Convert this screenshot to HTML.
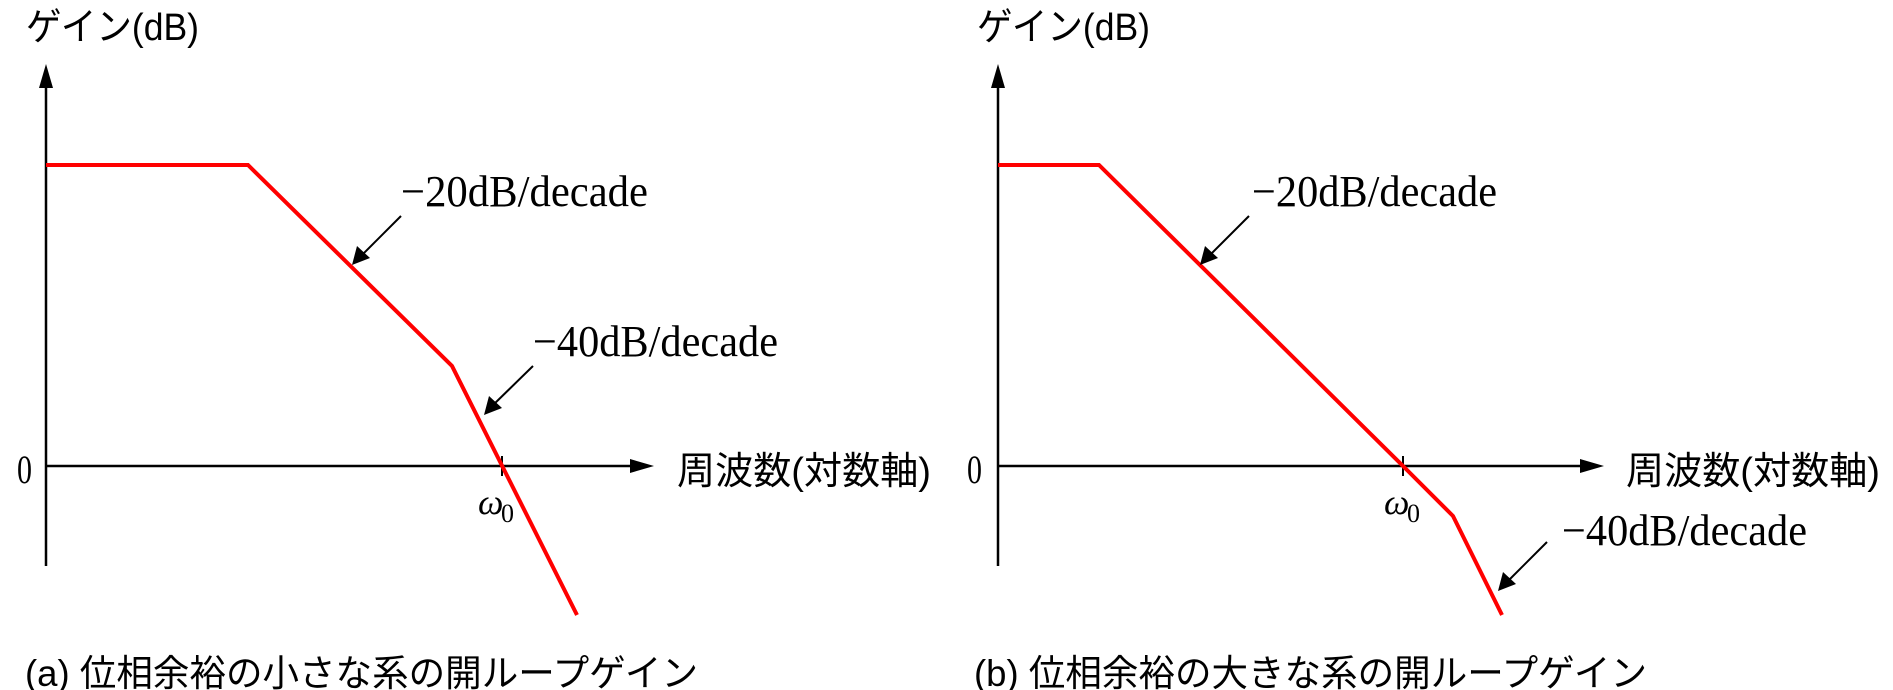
<!DOCTYPE html>
<html><head><meta charset="utf-8"><style>html,body{margin:0;padding:0;background:#fff;}svg{display:block}</style></head>
<body>
<svg width="1893" height="690" viewBox="0 0 1893 690" xmlns="http://www.w3.org/2000/svg">
<g font-family="Liberation Serif, serif" fill="#000">
<!-- Panel A -->
<line x1="46" y1="566" x2="46" y2="85" stroke="#000" stroke-width="2.5"/>
<polygon points="46,64 39,88 53,88" fill="#000"/>
<line x1="46" y1="466" x2="632" y2="466" stroke="#000" stroke-width="2.5"/>
<polygon points="654,466 630,459 630,473" fill="#000"/>
<line x1="502" y1="456" x2="502" y2="476" stroke="#000" stroke-width="2"/>
<polyline points="46,165 248,165 452,366 577,615" fill="none" stroke="#ff0000" stroke-width="4"/>
<line x1="401" y1="216" x2="360" y2="257" stroke="#000" stroke-width="2"/>
<polygon points="352,265 357,246 370,258" fill="#000"/>
<line x1="533" y1="366" x2="490" y2="408" stroke="#000" stroke-width="2"/>
<polygon points="484,415 489,396 502,408" fill="#000"/>
<text x="26" y="40" font-size="38" font-family="Liberation Sans, Noto Sans CJK JP, sans-serif" textLength="173" lengthAdjust="spacingAndGlyphs">ゲイン(dB)</text>
<text x="17" y="483" font-size="40" textLength="15" lengthAdjust="spacingAndGlyphs">0</text>
<text x="677" y="484" font-size="38" font-family="Liberation Sans, Noto Sans CJK JP, sans-serif" textLength="254" lengthAdjust="spacingAndGlyphs">周波数(対数軸)</text>
<text x="401" y="206" font-size="44" textLength="247" lengthAdjust="spacingAndGlyphs">−20dB/decade</text>
<text x="533" y="356" font-size="44" textLength="245" lengthAdjust="spacingAndGlyphs">−40dB/decade</text>
<text x="478" y="514" font-size="36" font-style="italic">ω</text><text x="501" y="522" font-size="26">0</text>
<text x="25" y="686" font-size="37" font-family="Liberation Sans, Noto Sans CJK JP, sans-serif" textLength="673" lengthAdjust="spacingAndGlyphs">(a)  位相余裕の小さな系の開ループゲイン</text>

<!-- Panel B -->
<line x1="998" y1="566" x2="998" y2="85" stroke="#000" stroke-width="2.5"/>
<polygon points="998,64 991,88 1005,88" fill="#000"/>
<line x1="998" y1="466" x2="1582" y2="466" stroke="#000" stroke-width="2.5"/>
<polygon points="1604,466 1580,459 1580,473" fill="#000"/>
<line x1="1403" y1="456" x2="1403" y2="476" stroke="#000" stroke-width="2"/>
<polyline points="998,165 1099,165 1403,466 1453,516 1502,615" fill="none" stroke="#ff0000" stroke-width="4"/>
<line x1="1249" y1="216" x2="1208" y2="257" stroke="#000" stroke-width="2"/>
<polygon points="1200,265 1205,246 1218,258" fill="#000"/>
<line x1="1547" y1="542" x2="1505" y2="584" stroke="#000" stroke-width="2"/>
<polygon points="1498,591 1503,572 1516,584" fill="#000"/>
<text x="977" y="40" font-size="38" font-family="Liberation Sans, Noto Sans CJK JP, sans-serif" textLength="173" lengthAdjust="spacingAndGlyphs">ゲイン(dB)</text>
<text x="967" y="483" font-size="40" textLength="15" lengthAdjust="spacingAndGlyphs">0</text>
<text x="1626" y="484" font-size="38" font-family="Liberation Sans, Noto Sans CJK JP, sans-serif" textLength="254" lengthAdjust="spacingAndGlyphs">周波数(対数軸)</text>
<text x="1252" y="206" font-size="44" textLength="245" lengthAdjust="spacingAndGlyphs">−20dB/decade</text>
<text x="1562" y="545" font-size="44" textLength="245" lengthAdjust="spacingAndGlyphs">−40dB/decade</text>
<text x="1384" y="514" font-size="36" font-style="italic">ω</text><text x="1407" y="522" font-size="26">0</text>
<text x="974" y="686" font-size="37" font-family="Liberation Sans, Noto Sans CJK JP, sans-serif" textLength="673" lengthAdjust="spacingAndGlyphs">(b)  位相余裕の大きな系の開ループゲイン</text>
</g>
</svg>
</body></html>
